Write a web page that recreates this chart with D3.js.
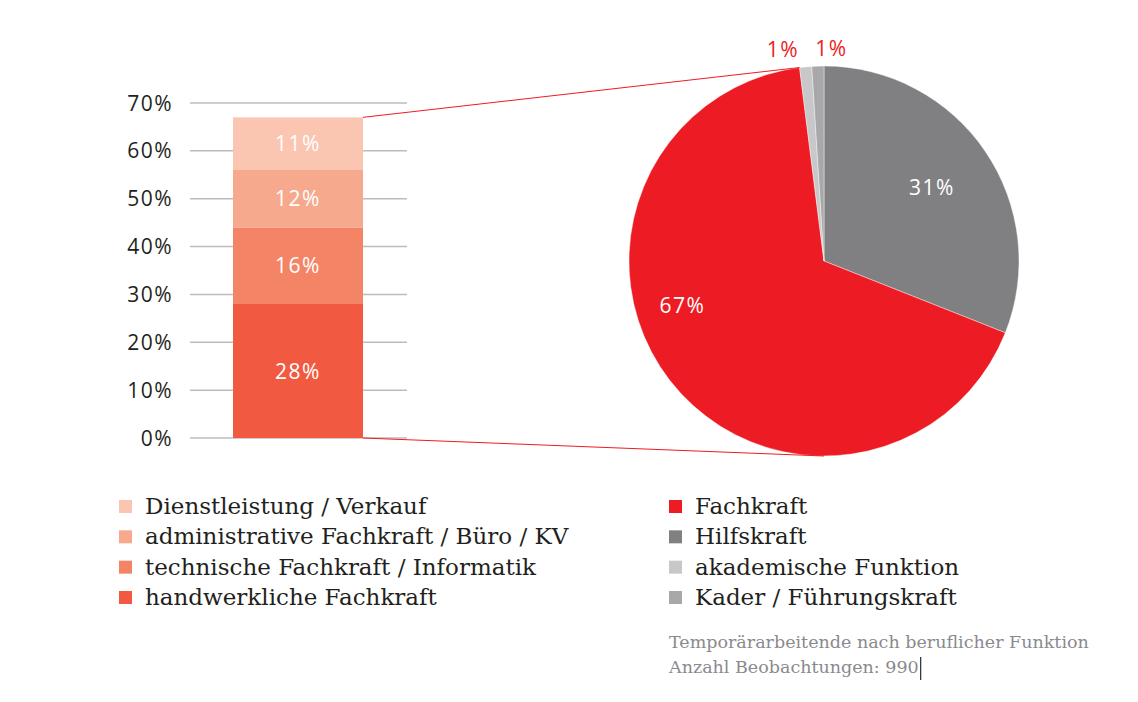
<!DOCTYPE html>
<html>
<head>
<meta charset="utf-8">
<script src="https://cdn.jsdelivr.net/npm/d3@7"></script>
<style>
  body { margin: 0; background: #fff; }
  .axis-label { font-family: "Open Sans", sans-serif; font-size: 21px; fill: #231f20; letter-spacing: 1.5px; }
  .val { font-family: "Open Sans", sans-serif; font-size: 21px; fill: #fff; letter-spacing: 1.5px; }
  .legend { font-family: "DejaVu Serif", serif; font-size: 23px; fill: #231f20; }
  .note { font-family: "DejaVu Serif", serif; font-size: 17.5px; fill: #8a8a8e; }
</style>
</head>
<body>
<svg width="1138" height="702"></svg>
<script>
// bar: Funktion der Fachkräfte (Anteil an allen)
var barCats = ["handwerkliche Fachkraft", "technische Fachkraft / Informatik", "administrative Fachkraft / Büro / KV", "Dienstleistung / Verkauf"];
var barVals = [28, 16, 12, 11];
var barColors = ["#f15a40", "#f38566", "#f6a98d", "#fac6b1"];
var yTicks = [0, 10, 20, 30, 40, 50, 60, 70];

// pie: alle Temporärarbeitenden
var pieCats = ["Hilfskraft", "Fachkraft", "akademische Funktion", "Kader / Führungskraft"];
var pieVals = [31, 67, 1, 1];
var pieColors = ["#808083", "#ed1c24", "#c8c8ca", "#a8a8ab"];

var legendLeft = ["Dienstleistung / Verkauf", "administrative Fachkraft / Büro / KV", "technische Fachkraft / Informatik", "handwerkliche Fachkraft"];
var legendRight = ["Fachkraft", "Hilfskraft", "akademische Funktion", "Kader / Führungskraft"];
var noteLines = ["Temporärarbeitende nach beruflicher Funktion", "Anzahl Beobachtungen: 990"];

var svg = d3.select("svg");

// ---- stacked bar
var y = d3.scaleLinear().domain([0, 70]).range([438, 103]);
var gridX0 = 190, gridX1 = 407, barX0 = 233, barX1 = 363;

svg.selectAll(".grid")
  .data(yTicks)
  .enter().append("line")
    .attr("x1", gridX0).attr("x2", gridX1)
    .attr("y1", function(d) { return y(d); })
    .attr("y2", function(d) { return y(d); })
    .attr("stroke", "#bcbcc0")
    .attr("stroke-width", 1.5);

svg.selectAll(".tick")
  .data(yTicks)
  .enter().append("text")
    .attr("class", "axis-label")
    .attr("x", 173)
    .attr("y", function(d) { return y(d); })
    .attr("dy", "0.36em")
    .attr("text-anchor", "end")
    .text(function(d) { return d + "%"; });

var stack = [];
var acc = 0;
barVals.forEach(function(v, i) {
  stack.push({cat: barCats[i], v: v, y0: acc, y1: acc + v, color: barColors[i]});
  acc += v;
});

svg.selectAll(".seg")
  .data(stack)
  .enter().append("rect")
    .attr("x", barX0)
    .attr("width", barX1 - barX0)
    .attr("y", function(d) { return y(d.y1); })
    .attr("height", function(d) { return y(d.y0) - y(d.y1); })
    .attr("fill", function(d) { return d.color; });

svg.selectAll(".val")
  .data(stack)
  .enter().append("text")
    .attr("class", "val")
    .attr("x", (barX0 + barX1) / 2)
    .attr("y", function(d) { return y((d.y0 + d.y1) / 2); })
    .attr("dy", "0.36em")
    .attr("text-anchor", "middle")
    .text(function(d) { return d.v + "%"; });

// ---- pie
var cx = 824, cy = 261, r = 195;
var pie = d3.pie().sort(null).value(function(d) { return d; });
var arcs = pie(pieVals);
var arc = d3.arc().innerRadius(0).outerRadius(r);

var pg = svg.append("g").attr("transform", "translate(" + cx + "," + cy + ")");
pg.selectAll("path")
  .data(arcs)
  .enter().append("path")
    .attr("d", arc)
    .attr("fill", function(d, i) { return pieColors[i]; })
    .attr("stroke", "#fff")
    .attr("stroke-width", 0.4);

// connector lines from bar top/bottom to the Fachkraft slice
var fach = arcs[1];
var topPt = [cx + r * Math.sin(fach.endAngle), cy - r * Math.cos(fach.endAngle)];
var botPt = [cx, cy + r];
svg.append("line")
  .attr("x1", barX1).attr("y1", y(acc))
  .attr("x2", topPt[0]).attr("y2", topPt[1])
  .attr("stroke", "#ed1c24").attr("stroke-width", 1);
svg.append("line")
  .attr("x1", barX1).attr("y1", y(0))
  .attr("x2", botPt[0]).attr("y2", botPt[1])
  .attr("stroke", "#ed1c24").attr("stroke-width", 1);

// pie labels
function polar(a, rr) { return [Math.sin(a) * rr, -Math.cos(a) * rr]; }
arcs.forEach(function(d, i) {
  var mid = (d.startAngle + d.endAngle) / 2;
  var pos, color = "#fff";
  if (pieVals[i] < 5) {
    pos = polar(mid, r + 18);
    pos[0] += (i === 2 ? -21 : 14);
    color = "#ed1c24";
  } else if (i === 1) {
    pos = polar(d.startAngle + 0.585 * (d.endAngle - d.startAngle), r * 0.76);
  } else {
    pos = polar(mid, r * 0.67);
  }
  pg.append("text")
    .attr("class", "val")
    .attr("x", pos[0]).attr("y", pos[1])
    .attr("dy", "0.36em")
    .attr("text-anchor", "middle")
    .style("fill", color)
    .text(pieVals[i] + "%");
});

// ---- legends
var rowY = d3.scalePoint().domain([0, 1, 2, 3]).range([506, 597]);
var leftColor = {};
barCats.forEach(function(c, i) { leftColor[c] = barColors[i]; });
var rightColor = {};
pieCats.forEach(function(c, i) { rightColor[c] = pieColors[i]; });

function legend(items, colors, x) {
  var g = svg.append("g");
  items.forEach(function(name, i) {
    g.append("rect")
      .attr("x", x).attr("y", rowY(i) - 6)
      .attr("width", 13).attr("height", 13)
      .attr("fill", colors[name]);
    g.append("text")
      .attr("class", "legend")
      .attr("x", x + 26).attr("y", rowY(i))
      .attr("dy", "0.35em")
      .text(name);
  });
}
legend(legendLeft, leftColor, 119);
legend(legendRight, rightColor, 669);

noteLines.forEach(function(t, i) {
  svg.append("text")
    .attr("class", "note")
    .attr("x", 669).attr("y", 648 + i * 25)
    .text(t);
});
var lastNote = svg.selectAll(".note").nodes()[1];
var bb = lastNote.getBBox();
svg.append("line")
  .attr("x1", bb.x + bb.width + 2).attr("x2", bb.x + bb.width + 2)
  .attr("y1", 657).attr("y2", 680)
  .attr("stroke", "#000").attr("stroke-width", 1);
</script>
</body>
</html>
